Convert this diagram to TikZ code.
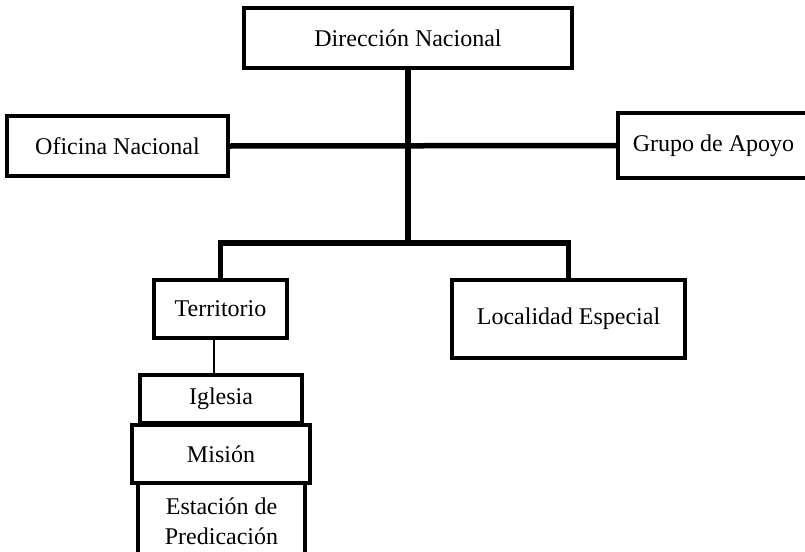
\documentclass[tikz,border=0pt]{standalone}
\usepackage{fontspec}
\setmainfont{Liberation Serif}
\begin{document}
\begin{tikzpicture}[x=1pt,y=-1pt,
  box/.style={draw=black, line width=4pt, fill=white, line join=miter, inner sep=0pt,
    font=\fontsize{24}{30}\selectfont, align=center},
  trunk/.style={draw=black, line width=5.5pt, line join=miter},
  thin/.style={draw=black, line width=2pt}]
\useasboundingbox (0,0) rectangle (805,551);
\clip (0,0) rectangle (805,551);
\node[box, minimum width=328pt, minimum height=60pt] (dn) at (408,38) {Dirección Nacional};
\node[box, minimum width=221pt, minimum height=60pt] (on) at (117.5,146) {Oficina Nacional};
\node[box, minimum width=191pt, minimum height=65pt] (ga) at (713.5,145.5) {Grupo de Apoyo};
\node[box, minimum width=133pt, minimum height=58pt] (te) at (220.5,309) {Territorio};
\node[box, minimum width=233pt, minimum height=78pt] (le) at (568.5,319) {Localidad Especial};
\node[box, minimum width=162pt, minimum height=48pt] (ig) at (221,399) {Iglesia};
\node[box, minimum width=167pt, minimum height=76pt] (es) at (221.5,521) {Estación de\\Predicación};
\node[box, minimum width=178pt, minimum height=58pt] (mi) at (221,454) {Misión};
\coordinate (j) at (408,243);
\draw[trunk] (dn.south) -- (j);
\draw[trunk] (on.east) -- (ga.west);
\draw[trunk] (te.north) |- (j) -| (le.north);
\draw[thin] (te.south -| 214,0) -- (ig.north -| 214,0);
\end{tikzpicture}
\end{document}
